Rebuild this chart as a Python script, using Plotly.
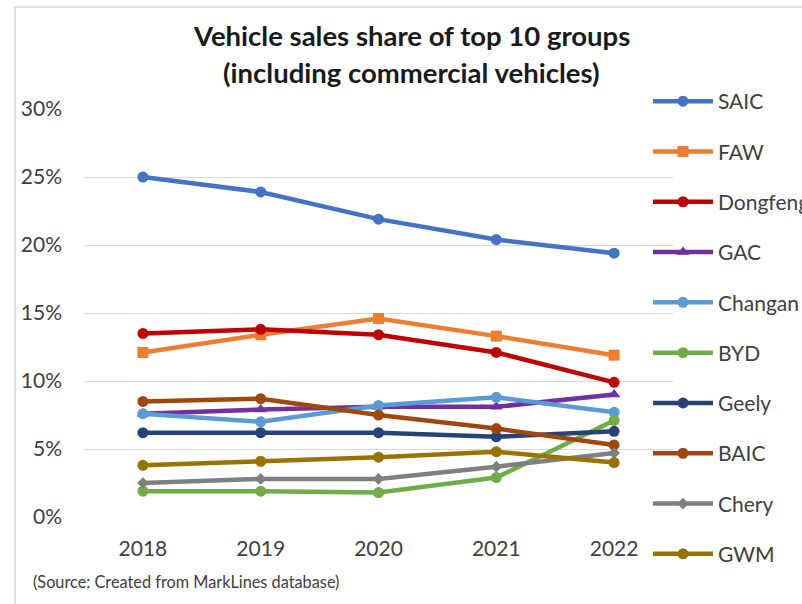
import plotly.graph_objects as go

# Sales share of the top 10 vehicle groups in China (fraction of total sales)
years = ["2018", "2019", "2020", "2021", "2022"]
saic = [0.250, 0.239, 0.219, 0.204, 0.194]
faw = [0.121, 0.134, 0.146, 0.133, 0.119]
dongfeng = [0.135, 0.138, 0.134, 0.121, 0.099]
gac = [0.076, 0.079, 0.081, 0.081, 0.090]
changan = [0.076, 0.070, 0.082, 0.088, 0.077]
byd = [0.019, 0.019, 0.018, 0.029, 0.071]
geely = [0.062, 0.062, 0.062, 0.059, 0.063]
baic = [0.085, 0.087, 0.075, 0.065, 0.053]
chery = [0.025, 0.028, 0.028, 0.037, 0.047]
gwm = [0.038, 0.041, 0.044, 0.048, 0.040]

group_names = ["SAIC", "FAW", "Dongfeng", "GAC", "Changan",
               "BYD", "Geely", "BAIC", "Chery", "GWM"]
group_values = [saic, faw, dongfeng, gac, changan, byd, geely, baic, chery, gwm]
group_colors = ["#4472C4", "#ED7D31", "#C00000", "#7030A0", "#5B9BD5",
                "#70AD47", "#264478", "#9E480E", "#7F7F7F", "#997300"]
group_symbols = ["circle", "square", "circle", "triangle-up", "circle",
                 "circle", "circle", "circle", "diamond", "circle"]

W, H = 802, 604
L, R, T, B = 84, 673, 109, 517   # plot area edges in pixels
FONT = "Lato"
TEXT = "#404040"


def px(x):
    return (x - L) / (R - L)


def py(y):
    return (B - y) / (B - T)


fig = go.Figure()
for name, vals, col, sym in zip(group_names, group_values, group_colors, group_symbols):
    fig.add_trace(go.Scatter(
        x=years, y=vals, name=name, mode="lines+markers",
        line=dict(color=col, width=4.5),
        marker=dict(symbol=sym, size=11 if sym != "diamond" else 9, color=col),
        legendgroup=name,
    ))

fig.update_layout(
    width=W, height=H,
    margin=dict(l=L, r=W - R, t=T, b=H - B, autoexpand=False),
    paper_bgcolor="white", plot_bgcolor="white",
    showlegend=True,
    legend=dict(
        x=px(648), xanchor="left", y=py(81), yanchor="top",
        font=dict(family=FONT, size=21, color=TEXT),
        tracegroupgap=20, bgcolor="rgba(0,0,0,0)",
        itemwidth=60, maxheight=600,
    ),
    xaxis=dict(
        type="category", range=[-0.5, 4.5], showgrid=False, zeroline=False,
        showline=False, ticks="",
        tickfont=dict(family=FONT, size=21, color=TEXT),
        ticklabelstandoff=17,
    ),
    yaxis=dict(
        range=[0, 0.30], tickvals=[0, 0.05, 0.10, 0.15, 0.20, 0.25, 0.30],
        tickformat=".0%", showgrid=True, gridcolor="#D9D9D9", gridwidth=1,
        zeroline=False, showline=False, ticks="",
        tickfont=dict(family=FONT, size=21, color=TEXT),
        ticklabelstandoff=21,
    ),
    annotations=[
        dict(text="<b>Vehicle sales share of top 10 groups</b>", x=px(411), y=py(36),
             xref="paper", yref="paper", yanchor="middle", showarrow=False,
             font=dict(family=FONT, size=27.5, color="#1A1A1A")),
        dict(text="<b>(including commercial vehicles)</b>", x=px(411), y=py(72),
             xref="paper", yref="paper", yanchor="middle", showarrow=False,
             font=dict(family=FONT, size=27.5, color="#1A1A1A")),
        dict(text="(Source: Created from MarkLines database)", x=px(31), y=py(581),
             xref="paper", yref="paper", xanchor="left", yanchor="middle",
             showarrow=False,
             font=dict(family=FONT, size=16.3, color=TEXT)),
    ],
    shapes=[
        dict(type="rect", xref="paper", yref="paper",
             x0=px(15), x1=px(812), y0=py(7), y1=py(614),
             line=dict(color="#D9D9D9", width=1.5), layer="below"),
    ],
)

fig.write_html("out.html")
